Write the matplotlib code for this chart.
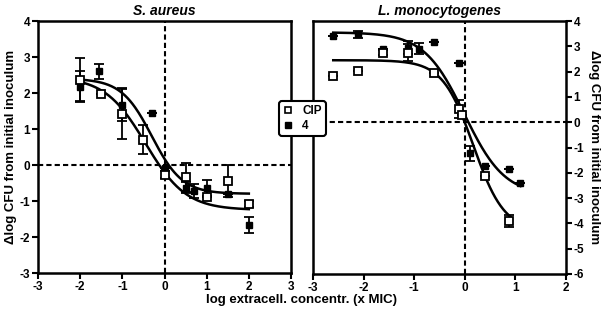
import numpy as np
import matplotlib.pyplot as plt

plt.rcParams['font.family'] = ['Liberation Sans', 'DejaVu Sans']
plt.rcParams['font.weight'] = 'bold'
plt.rcParams['axes.unicode_minus'] = False

# S. aureus
sa_cip_x = [-2, -1.5, -1, -0.5, 0, 0.5, 1, 1.5, 2]
sa_cip_y = [2.37, 1.97, 1.42, 0.7, -0.27, -0.34, -0.88, -0.45, -1.08]
sa_cip_err = [0.6, 0.0, 0.7, 0.4, 0.1, 0.4, 0.0, 0.45, 0.08]
sa_4_x = [-2, -1.55, -1, -0.29, 0, 0.5, 0.7, 1, 1.5, 2]
sa_4_y = [2.18, 2.6, 1.68, 1.44, -0.08, -0.63, -0.72, -0.65, -0.81, -1.66]
sa_4_err = [0.42, 0.2, 0.45, 0.0, 0.0, 0.15, 0.2, 0.22, 0.0, 0.22]

# L. monocytogenes
lm_cip_x = [-2.61, -2.12, -1.61, -1.12, -0.6, -0.12, -0.06, 0.4, 0.88]
lm_cip_y = [1.84, 2.02, 2.75, 2.75, 1.96, 0.52, 0.3, -2.13, -3.9]
lm_cip_err = [0.0, 0.0, 0.1, 0.35, 0.0, 0.35, 0.0, 0.0, 0.25]
lm_4_x = [-2.61, -2.12, -1.61, -1.12, -0.9, -0.6, -0.12, 0.1, 0.4, 0.88, 1.1]
lm_4_y = [3.42, 3.47, 2.9, 2.95, 2.9, 3.16, 2.35, -1.23, -1.72, -1.85, -2.42]
lm_4_err = [0.0, 0.15, 0.0, 0.25, 0.22, 0.0, 0.0, 0.3, 0.0, 0.0, 0.0]

# fitted sigmoid parameters: top, bottom, logEC50, hill, x range
sa_cip_fit = [2.45, -1.25, -0.45, 0.9, -2, 2]
sa_4_fit = [2.4, -0.8, -0.3, 1.2, -2, 2]
lm_cip_fit = [2.45, -4.3, 0.17, 1.42, -2.6, 0.9]
lm_4_fit = [3.55, -2.9, -0.01, 1.09, -2.6, 1.1]


def sigmoid_curve(p):
    top, bottom, ec50, hill, x0, x1 = p
    xs = np.linspace(x0, x1, 200)
    return xs, bottom + (top - bottom) / (1 + 10 ** ((xs - ec50) * hill))


def draw_panel(ax, cx, cy, ce, fx, fy, fe, cfit, ffit):
    for p in (cfit, ffit):
        xs, ys = sigmoid_curve(p)
        ax.plot(xs, ys, color='black', lw=1.8, zorder=3)
    ax.axhline(0, color='black', ls=(0, (2.5, 1.5)), lw=1.5, zorder=1)
    ax.axvline(0, color='black', ls=(0, (2.5, 1.5)), lw=1.5, zorder=1)
    ax.errorbar(fx, fy, yerr=fe, fmt='s', color='black', mfc='black', ms=4.8,
                capsize=3.5, elinewidth=1.3, capthick=1.3, zorder=4)
    ax.errorbar(cx, cy, yerr=ce, fmt='s', color='black', mfc='white', mec='black',
                mew=1.3, ms=5.3, capsize=3.5, elinewidth=1.3, capthick=1.3, zorder=5)
    for s in ax.spines.values():
        s.set_linewidth(1.8)
    ax.tick_params(width=1.5, length=4, labelsize=8.5, pad=1.5)
    for lab in ax.get_xticklabels() + ax.get_yticklabels():
        lab.set_fontweight('bold')


fig = plt.figure(figsize=(6.09, 3.18), dpi=100)
ax1 = fig.add_axes([38 / 609, 45 / 318, 253 / 609, 252 / 318])
ax2 = fig.add_axes([313 / 609, 44 / 318, 253 / 609, 253 / 318])

draw_panel(ax1, sa_cip_x, sa_cip_y, sa_cip_err, sa_4_x, sa_4_y, sa_4_err, sa_cip_fit, sa_4_fit)
ax1.set_xlim(-3, 3)
ax1.set_ylim(-3, 4)
ax1.set_xticks(range(-3, 4))
ax1.set_yticks(range(-3, 5))
ax1.set_title('S. aureus', fontsize=10, fontweight='bold', style='italic', pad=4)
ax1.set_ylabel('\u0394log CFU from initial inoculum', fontsize=9.5, fontweight='bold', labelpad=2)

draw_panel(ax2, lm_cip_x, lm_cip_y, lm_cip_err, lm_4_x, lm_4_y, lm_4_err, lm_cip_fit, lm_4_fit)
ax2.set_xlim(-3, 2)
ax2.set_ylim(-6, 4)
ax2.set_xticks(range(-3, 3))
ax2.set_yticks(range(-6, 5))
ax2.yaxis.tick_right()
ax2.yaxis.set_label_position('right')
ax2.set_title('L. monocytogenes', fontsize=10, fontweight='bold', style='italic', pad=4)
ax2.set_ylabel('\u0394log CFU from initial inoculum', fontsize=9.5, fontweight='bold',
               rotation=-90, labelpad=11)

fig.text(302 / 609, 1 - 300 / 318, 'log extracell. concentr. (x MIC)', ha='center', va='center',
         fontsize=9.5, fontweight='bold')

h1 = plt.Line2D([], [], ls='none', marker='s', ms=5, mfc='white', mec='black', mew=1.2)
h2 = plt.Line2D([], [], ls='none', marker='s', ms=5, mfc='black', mec='black')
leg = fig.legend([h1, h2], ['CIP', '4'], loc='center', bbox_to_anchor=(302.5 / 609, 1 - 118.5 / 318),
                 fontsize=8.5, frameon=True, fancybox=True, edgecolor='black', framealpha=1,
                 handlelength=0.8, handletextpad=0.8, borderpad=0.35, labelspacing=0.2,
                 borderaxespad=0)
leg.get_frame().set_linewidth(1.5)
for t in leg.get_texts():
    t.set_fontweight('bold')

fig.savefig('out.png', dpi=100)
